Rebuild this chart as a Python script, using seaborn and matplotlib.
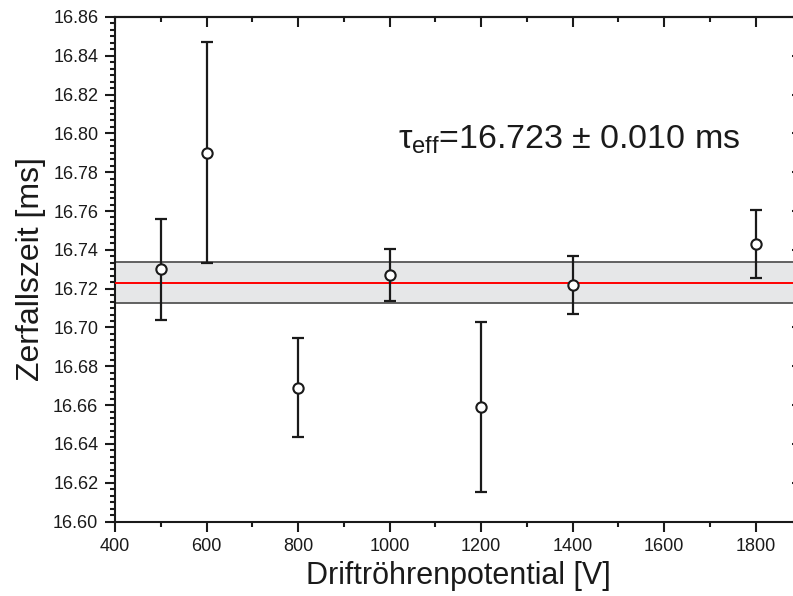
import numpy as np
import seaborn as sns
import matplotlib.pyplot as plt
from matplotlib.ticker import MultipleLocator, AutoMinorLocator

# data
potential = [500, 600, 800, 1000, 1200, 1400, 1800]
tau = [16.730, 16.790, 16.669, 16.727, 16.659, 16.722, 16.743]
tau_err = [0.026, 0.057, 0.0255, 0.0133, 0.0436, 0.015, 0.0173]

tau_eff = 16.723
tau_eff_err = 0.0105

sns.set_style('ticks')
plt.rcParams['font.family'] = ['Liberation Sans', 'DejaVu Sans']
plt.rcParams['mathtext.fontset'] = 'custom'
plt.rcParams['mathtext.rm'] = 'Liberation Sans'
plt.rcParams['mathtext.it'] = 'Liberation Sans'
plt.rcParams['mathtext.bf'] = 'Liberation Sans'

fig = plt.figure(figsize=(7.93, 5.96), dpi=100)
ax = fig.add_axes([0.145, 0.125, 0.8658, 0.8465])

# mean value with uncertainty band
ax.axhspan(tau_eff - tau_eff_err, tau_eff + tau_eff_err, facecolor='#e6e7e8',
           edgecolor='none', zorder=1)
ax.axhline(tau_eff + tau_eff_err, color='#555555', lw=1.3, zorder=2)
ax.axhline(tau_eff - tau_eff_err, color='#555555', lw=1.3, zorder=2)
ax.axhline(tau_eff, color='#ff0000', lw=1.4, zorder=3)

ax.errorbar(potential, tau, yerr=tau_err, fmt='none', ecolor='#1a1a1a',
            elinewidth=1.6, capsize=4, capthick=1.6, zorder=4)
sns.scatterplot(x=potential, y=tau, ax=ax, marker='o', s=55, color='white',
                edgecolor='#1a1a1a', linewidth=1.5, zorder=5)

ax.set_xlim(400, 1900)
ax.set_ylim(16.60, 16.86)
ax.xaxis.set_major_locator(MultipleLocator(200))
ax.xaxis.set_minor_locator(MultipleLocator(100))
ax.yaxis.set_major_locator(MultipleLocator(0.02))
ax.yaxis.set_minor_locator(AutoMinorLocator(6))
ax.yaxis.set_major_formatter(plt.FormatStrFormatter('%.2f'))

for sp in ax.spines.values():
    sp.set_linewidth(1.5)
    sp.set_color('#1a1a1a')
    sp.set_visible(True)

ax.tick_params(which='both', direction='out', width=1.5, color='#1a1a1a',
               labelsize=13, labelcolor='#1a1a1a', pad=5)
ax.tick_params(which='major', length=7)
ax.tick_params(which='minor', length=3.5)

# mirrored ticks pointing inwards on top and right
top = ax.secondary_xaxis('top')
top.xaxis.set_major_locator(MultipleLocator(200))
top.xaxis.set_minor_locator(MultipleLocator(100))
top.tick_params(which='both', direction='in', width=1.5, color='#1a1a1a', labeltop=False)
top.tick_params(which='major', length=7)
top.tick_params(which='minor', length=3.5)
top.spines['top'].set_linewidth(1.5)

right = ax.secondary_yaxis('right')
right.yaxis.set_major_locator(MultipleLocator(0.02))
right.yaxis.set_minor_locator(AutoMinorLocator(6))
right.tick_params(which='both', direction='in', width=1.5, color='#1a1a1a', labelright=False)
right.tick_params(which='major', length=7)
right.tick_params(which='minor', length=3.5)

ax.set_xlabel('Driftröhrenpotential [V]', fontsize=22, color='#1a1a1a', labelpad=4)
ax.set_ylabel('Zerfallszeit [ms]', fontsize=23, color='#1a1a1a', labelpad=5)

ax.text(0.412, 0.740, r'$\tau_{\mathrm{eff}}$=16.723 ± 0.010 ms', transform=ax.transAxes,
        fontsize=24.5, color='#1a1a1a', ha='left', va='baseline')

fig.savefig('out.png', dpi=100)
